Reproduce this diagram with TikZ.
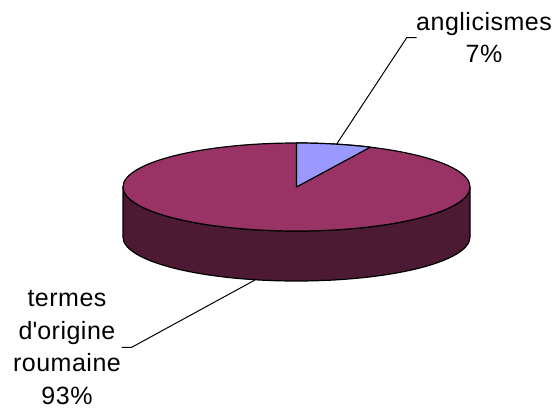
\documentclass[tikz,border=0pt]{standalone}
\usepackage{fontspec}
\setmainfont{Liberation Sans}[LetterSpace=2]
\definecolor{topc}{HTML}{993366}
\definecolor{sidec}{HTML}{4D1A33}
\definecolor{wedgec}{HTML}{9999FF}
\begin{document}
\begin{tikzpicture}[x=1pt,y=-1pt,
  outl/.style={draw=black,line width=1.2pt,line join=round},
  leader/.style={draw=black,line width=1pt},
  lbl/.style={inner sep=0pt,align=center,font=\fontsize{25}{32.5}\selectfont}]
\useasboundingbox (0,0) rectangle (555,410);
% side of the cylinder
\path[fill=sidec,outl] (123,187) -- (123,237)
  arc[start angle=180,end angle=0,x radius=173.5,y radius=44]
  -- (470,187)
  arc[start angle=0,end angle=180,x radius=173.5,y radius=44] -- cycle;
% top face
\path[fill=topc,outl] (296.5,187) ellipse[x radius=173.5,y radius=44];
% anglicismes wedge
\path[fill=wedgec,outl] (296.5,187) -- (296.5,143)
  arc[start angle=270,end angle=295.2,x radius=173.5,y radius=44] -- cycle;
% labels
\node[lbl,anchor=north] (aLab) at (484,12) {anglicismes\\7\%};
\node[lbl,anchor=north] (tLab) at (67,290.5) {termes\\d\textquotesingle origine\\roumaine\\93\%};
% leaders
\coordinate (aTip) at (336.7,144);
\coordinate (aElbow) at (406.7,37.7);
\coordinate (aEnd) at (416.7,37.7);
\coordinate (tTip) at (255,280);
\coordinate (tElbow) at (131.7,347.3);
\coordinate (tEnd) at (121.7,347.3);
\draw[leader] (aTip) -- (aElbow) -- (aEnd);
\draw[leader] (tTip) -- (tElbow) -- (tEnd);
\end{tikzpicture}
\end{document}
